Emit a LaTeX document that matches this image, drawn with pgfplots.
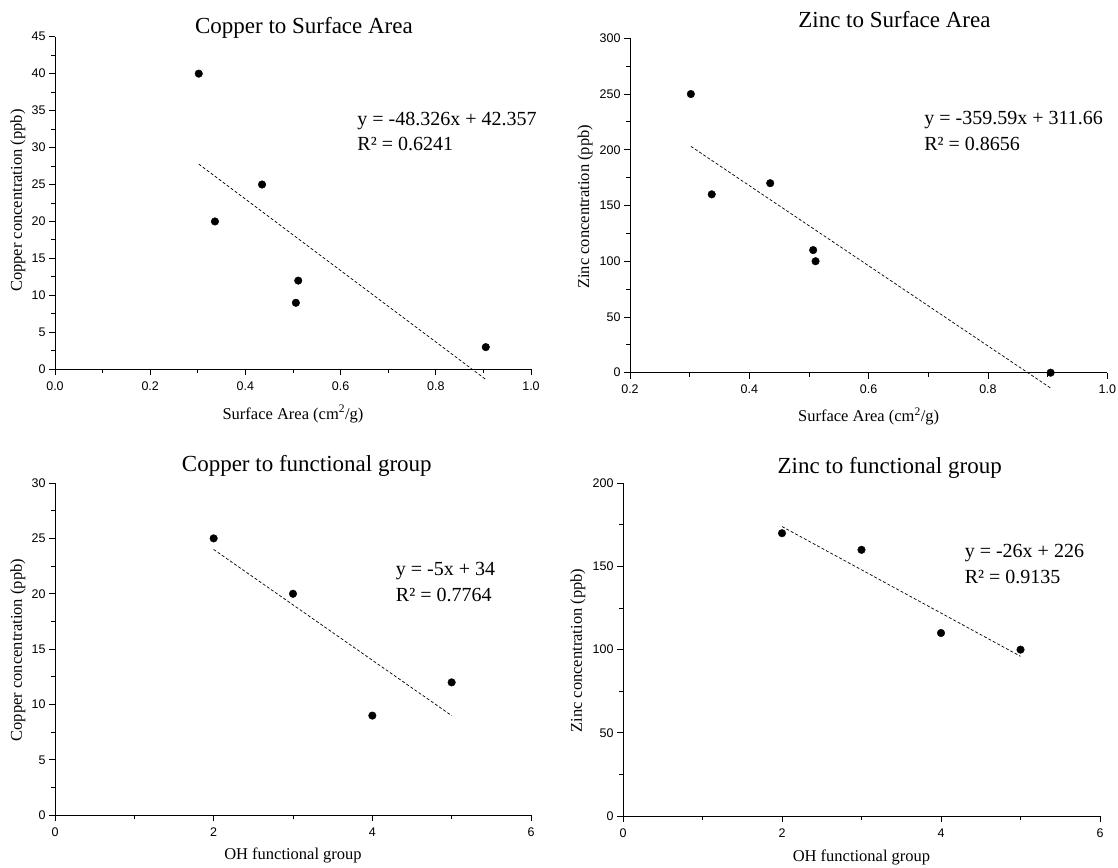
\documentclass[border=0pt]{standalone}
\usepackage{fontspec}
\setmainfont{Liberation Serif}
\setsansfont{Liberation Sans}
\usepackage{pgfplots}
\pgfplotsset{compat=1.18}

% font sizes (1pt = 1px of the final picture)
\newcommand\titlefont{\fontsize{23}{27}\selectfont\rmfamily}
\newcommand\labelfont{\fontsize{16.5}{20}\selectfont\rmfamily}
\newcommand\eqfont{\fontsize{20}{24}\selectfont\rmfamily}
\newcommand\tickfont{\fontsize{12.5}{15}\selectfont\sffamily}

\pgfplotsset{
  panel/.style={
    scale only axis,
    anchor=south west,
    axis x line*=bottom,
    axis y line*=left,
    axis line style={line width=0.9pt, black},
    tick align=outside,
    major tick length=6pt,
    minor tick length=4pt,
    every tick/.style={black, line width=0.9pt},
    minor tick num=1,
    tick label style={font=\tickfont},
    /pgf/number format/assume math mode=true,
    xticklabel style={yshift=-3pt},
    clip=false,
  },
  dots/.style={only marks, mark=*, mark size=3.8pt, black},
  trend/.style={black, line width=0.7pt, dash pattern=on 3pt off 2pt},
}

\begin{document}
\begin{tikzpicture}
\useasboundingbox (0,0) rectangle (1118pt,867pt);

% Copper vs. surface area
\begin{axis}[panel, at={(55pt,497.7pt)}, width=476pt, height=332.6pt,
  xmin=0, xmax=1, ymin=0, ymax=45,
  xtick={0,0.2,0.4,0.6,0.8,1}, ytick={0,5,...,45},
  xticklabel style={/pgf/number format/.cd, fixed, fixed zerofill, precision=1}]
  \addplot[trend] coordinates {(0.302,27.762) (0.905,-1.378)};
  \addplot[dots] coordinates {(0.302,40) (0.336,20) (0.435,25) (0.506,9) (0.511,12) (0.905,3)};
  \node[anchor=base, font=\titlefont] at (axis description cs:0.523,1.010) {Copper to Surface Area};
  \node[anchor=base, font=\labelfont] at (axis description cs:0.5,-0.150) {Surface Area (cm\textsuperscript{2}/g)};
  \node[rotate=90, anchor=center, font=\labelfont] at (axis description cs:-0.078,0.507) {Copper concentration (ppb)};
  \node[anchor=base west, inner sep=0pt, font=\eqfont] at (axis cs:0.635,33.05) {y = -48.326x + 42.357};
  \node[anchor=base west, inner sep=0pt, font=\eqfont] at (axis cs:0.635,29.54) {R² = 0.6241};
\end{axis}

% Zinc vs. surface area
\begin{axis}[panel, at={(630pt,494.3pt)}, width=477.3pt, height=334.4pt,
  xmin=0.2, xmax=1, ymin=0, ymax=300,
  xtick={0.2,0.4,0.6,0.8,1}, ytick={0,50,...,300},
  xticklabel style={/pgf/number format/.cd, fixed, fixed zerofill, precision=1}]
  \addplot[trend] coordinates {(0.302,203.062) (0.905,-13.769)};
  \addplot[dots] coordinates {(0.302,250) (0.337,160) (0.435,170) (0.507,110) (0.511,100) (0.905,0)};
  \node[anchor=base, font=\titlefont] at (axis description cs:0.554,1.033) {Zinc to Surface Area};
  \node[anchor=base, font=\labelfont] at (axis description cs:0.5,-0.147) {Surface Area (cm\textsuperscript{2}/g)};
  \node[rotate=90, anchor=center, font=\labelfont] at (axis description cs:-0.094,0.496) {Zinc concentration (ppb)};
  \node[anchor=base west, inner sep=0pt, font=\eqfont] at (axis cs:0.693,222.8) {y = -359.59x + 311.66};
  \node[anchor=base west, inner sep=0pt, font=\eqfont] at (axis cs:0.693,199.5) {R² = 0.8656};
\end{axis}

% Copper vs. OH functional group
\begin{axis}[panel, at={(55pt,51.7pt)}, width=476pt, height=332.3pt,
  xmin=0, xmax=6, ymin=0, ymax=30,
  xtick={0,2,4,6}, ytick={0,5,...,30}]
  \addplot[trend] coordinates {(2,24) (5,9)};
  \addplot[dots] coordinates {(2,25) (3,20) (4,9) (5,12)};
  \node[anchor=base, font=\titlefont] at (axis description cs:0.529,1.034) {Copper to functional group};
  \node[anchor=base, font=\labelfont] at (axis description cs:0.5,-0.1345) {OH functional group};
  \node[rotate=90, anchor=center, font=\labelfont] at (axis description cs:-0.078,0.497) {Copper concentration (ppb)};
  \node[anchor=base west, inner sep=0pt, font=\eqfont] at (axis cs:4.295,21.63) {y = -5x + 34};
  \node[anchor=base west, inner sep=0pt, font=\eqfont] at (axis cs:4.295,19.28) {R² = 0.7764};
\end{axis}

% Zinc vs. OH functional group
\begin{axis}[panel, at={(623pt,51pt)}, width=477pt, height=332.7pt,
  xmin=0, xmax=6, ymin=0, ymax=200,
  xtick={0,2,4,6}, ytick={0,50,...,200}]
  \addplot[trend] coordinates {(2,174) (5,96)};
  \addplot[dots] coordinates {(2,170) (3,160) (4,110) (5,100)};
  \node[anchor=base, font=\titlefont] at (axis description cs:0.559,1.030) {Zinc to functional group};
  \node[anchor=base, font=\labelfont] at (axis description cs:0.5,-0.137) {OH functional group};
  \node[rotate=90, anchor=center, font=\labelfont] at (axis description cs:-0.0946,0.497) {Zinc concentration (ppb)};
  \node[anchor=base west, inner sep=0pt, font=\eqfont] at (axis cs:4.297,155.3) {y = -26x + 226};
  \node[anchor=base west, inner sep=0pt, font=\eqfont] at (axis cs:4.297,139.9) {R² = 0.9135};
\end{axis}
\end{tikzpicture}
\end{document}
